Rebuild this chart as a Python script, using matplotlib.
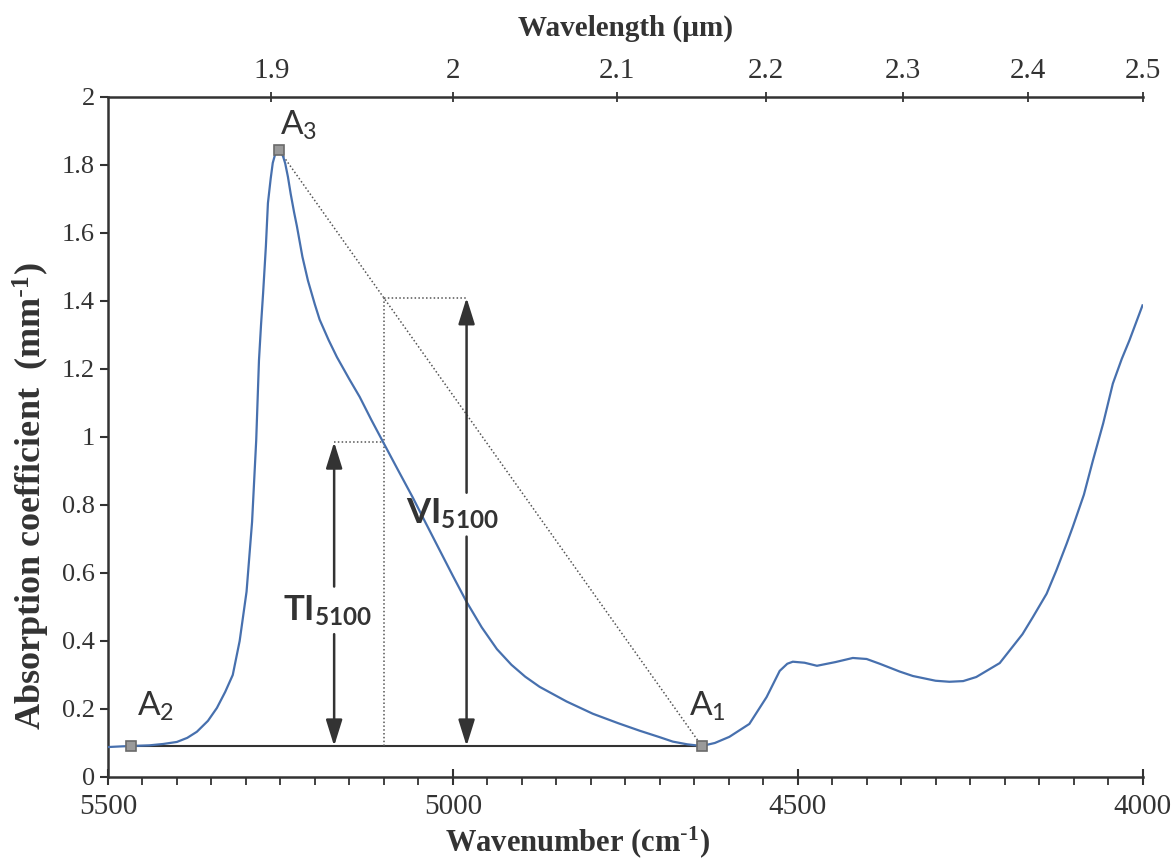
import numpy as np
import matplotlib
matplotlib.use('Agg')
import matplotlib.pyplot as plt
from matplotlib.ticker import MultipleLocator, FixedLocator

plt.rcParams['font.family'] = ['Liberation Serif', 'DejaVu Serif']
plt.rcParams['mathtext.default'] = 'regular'

# spectrum: wavenumber (cm-1) vs absorption coefficient (mm-1)
wavenumber = [5500, 5480, 5467, 5440, 5420, 5400, 5385, 5371, 5355, 5342, 5330,
              5319, 5309, 5299, 5291, 5285, 5281, 5278, 5275, 5271, 5268, 5264,
              5261, 5258, 5255, 5252, 5249, 5246, 5243, 5239, 5235, 5230, 5226,
              5218, 5210, 5200, 5193, 5180, 5168, 5150, 5135, 5118, 5101, 5080,
              5058, 5040, 5019, 5000, 4980, 4958, 4936, 4915, 4895, 4874, 4835,
              4797, 4760, 4729, 4700, 4681, 4660, 4639, 4620, 4599, 4570, 4545,
              4526, 4515, 4507, 4490, 4472, 4445, 4420, 4400, 4381, 4352, 4333,
              4300, 4280, 4260, 4241, 4207, 4174, 4159, 4139, 4125, 4110, 4101,
              4085, 4072, 4057, 4043, 4030, 4019, 4000]
absorption = [0.088, 0.090, 0.091, 0.093, 0.097, 0.103, 0.115, 0.133, 0.165, 0.203, 0.250,
              0.300, 0.400, 0.545, 0.750, 0.990, 1.225, 1.330, 1.423, 1.560, 1.688, 1.760,
              1.806, 1.828, 1.840, 1.844, 1.838, 1.825, 1.805, 1.765, 1.715, 1.660, 1.620,
              1.530, 1.460, 1.390, 1.345, 1.285, 1.235, 1.170, 1.118, 1.050, 0.985, 0.905,
              0.822, 0.750, 0.667, 0.592, 0.515, 0.440, 0.376, 0.330, 0.295, 0.265, 0.222,
              0.186, 0.158, 0.136, 0.117, 0.104, 0.096, 0.091, 0.100, 0.118, 0.156, 0.235,
              0.312, 0.333, 0.339, 0.336, 0.327, 0.338, 0.350, 0.347, 0.333, 0.310, 0.297,
              0.283, 0.280, 0.282, 0.294, 0.335, 0.420, 0.470, 0.539, 0.607, 0.686, 0.736,
              0.830, 0.930, 1.040, 1.157, 1.230, 1.284, 1.387]

# anchor points
A1 = (4639, 0.091)
A2 = (5467, 0.091)
A3 = (5252, 1.844)
WN_REF = 5100          # 5100 cm-1 index position
TI_TOP = 0.985         # curve value at 5100
VI_TOP = A1[1] + (A3[1] - A1[1]) * (WN_REF - A1[0]) / (A3[0] - A1[0])
TI_X = 5172
VI_X = 4980

wl_ticks = [1.9, 2.0, 2.1, 2.2, 2.3, 2.4, 2.5]
wl_labels = ['1.9', '2', '2.1', '2.2', '2.3', '2.4', '2.5']
y_ticks = [0, 0.2, 0.4, 0.6, 0.8, 1.0, 1.2, 1.4, 1.6, 1.8, 2.0]
y_labels = ['0', '0.2', '0.4', '0.6', '0.8', '1', '1.2', '1.4', '1.6', '1.8', '2']

SANS = 'Lato'
DARK = '#333333'
BLUE = '#4770AE'

fig = plt.figure(figsize=(11.73, 8.59), dpi=100)
ax = fig.add_axes([0.092, 0.0955, 0.882, 0.7916])

ax.plot(wavenumber, absorption, color=BLUE, lw=1.6, zorder=3)

# baseline A2-A1 and tangent A3-A1
ax.plot([A2[0], A1[0]], [A2[1], A1[1]], color=DARK, lw=1.5, zorder=2)
dot = dict(color='#555555', lw=1.1, ls=(0, (1, 1.5)), zorder=2)
ax.plot([A3[0], A1[0]], [A3[1], A1[1]], **dot)
ax.plot([WN_REF, WN_REF], [A1[1], VI_TOP], **dot)
ax.plot([TI_X, WN_REF], [TI_TOP, TI_TOP], **dot)
ax.plot([WN_REF, VI_X], [VI_TOP, VI_TOP], **dot)

def arrow(x, y0, y1):
    ax.annotate('', xy=(x, y1), xytext=(x, y0),
                arrowprops=dict(arrowstyle='-|>,head_length=1.6,head_width=0.5',
                                color=DARK, lw=1.8, shrinkA=0, shrinkB=0), zorder=4)

arrow(TI_X, 0.56, TI_TOP)
arrow(TI_X, 0.42, A1[1])
arrow(VI_X, 0.836, VI_TOP)
arrow(VI_X, 0.707, A1[1])

ax.text(5181, 0.49, r'TI$_{5100}$', family=SANS, fontweight='bold',
        fontsize=25, color=DARK, ha='center', va='center')
ax.text(5000, 0.775, r'VI$_{5100}$', family=SANS, fontweight='bold',
        fontsize=25, color=DARK, ha='center', va='center')

for (px, py), name, tx, ty in [(A1, '1', 4657, 0.18), (A2, '2', 5458, 0.18), (A3, '3', 5251, 1.888)]:
    ax.plot(px, py, marker='s', ms=7, mfc='#9a9a9a', mec='#6a6a6a', mew=1.2, zorder=5)
    ax.text(tx, ty, r'A$_%s$' % name, family=SANS, fontsize=24,
            color=DARK, ha='left', va='baseline')

ax.set_xlim(5500, 4000)
ax.set_ylim(0, 2)
ax.xaxis.set_major_locator(MultipleLocator(500))
ax.xaxis.set_minor_locator(MultipleLocator(50))
ax.set_yticks(y_ticks)
ax.set_yticklabels(y_labels)
ax.tick_params(axis='x', which='major', direction='inout', length=12, width=1.5,
               colors=DARK, labelsize=21, pad=6.5)
ax.tick_params(axis='x', which='minor', direction='out', length=6, width=1.3, colors=DARK)
ax.tick_params(axis='y', which='major', direction='out', length=6, width=1.5,
               colors=DARK, labelsize=19)
ax.spines['top'].set_visible(False)
ax.spines['right'].set_visible(False)
for s in ['left', 'bottom']:
    ax.spines[s].set_linewidth(1.8)
    ax.spines[s].set_color(DARK)

ax.set_xlabel(r'Wavenumber (cm$^{\text{-}1}$)', fontweight='bold', fontsize=22, color=DARK)
ax.xaxis.set_label_coords(0.454, -0.0702)
ax.xaxis.label.set_va('top')
ax.set_ylabel(r'Absorption coefficient  (mm$^{\text{-}1}$)', fontweight='bold',
              fontsize=26, color=DARK)
ax.yaxis.set_label_coords(-0.074, 0.413)
ax.yaxis.label.set_va('center')

def wn2wl(w):
    w = np.asarray(w, dtype=float)
    with np.errstate(divide='ignore'):
        return 1e4 / w

sec = ax.secondary_xaxis('top', functions=(wn2wl, wn2wl))
sec.xaxis.set_major_locator(FixedLocator(wl_ticks))
sec.set_xticklabels(wl_labels)
sec.tick_params(axis='x', direction='inout', length=7, width=1.3, colors=DARK,
                labelsize=21, pad=6)
sec.spines['top'].set_linewidth(1.8)
sec.spines['top'].set_color(DARK)
sec.set_xlabel('Wavelength (µm)', fontweight='bold', fontsize=21,
               color=DARK, labelpad=16)

fig.savefig('out.png', dpi=100, facecolor='white')
